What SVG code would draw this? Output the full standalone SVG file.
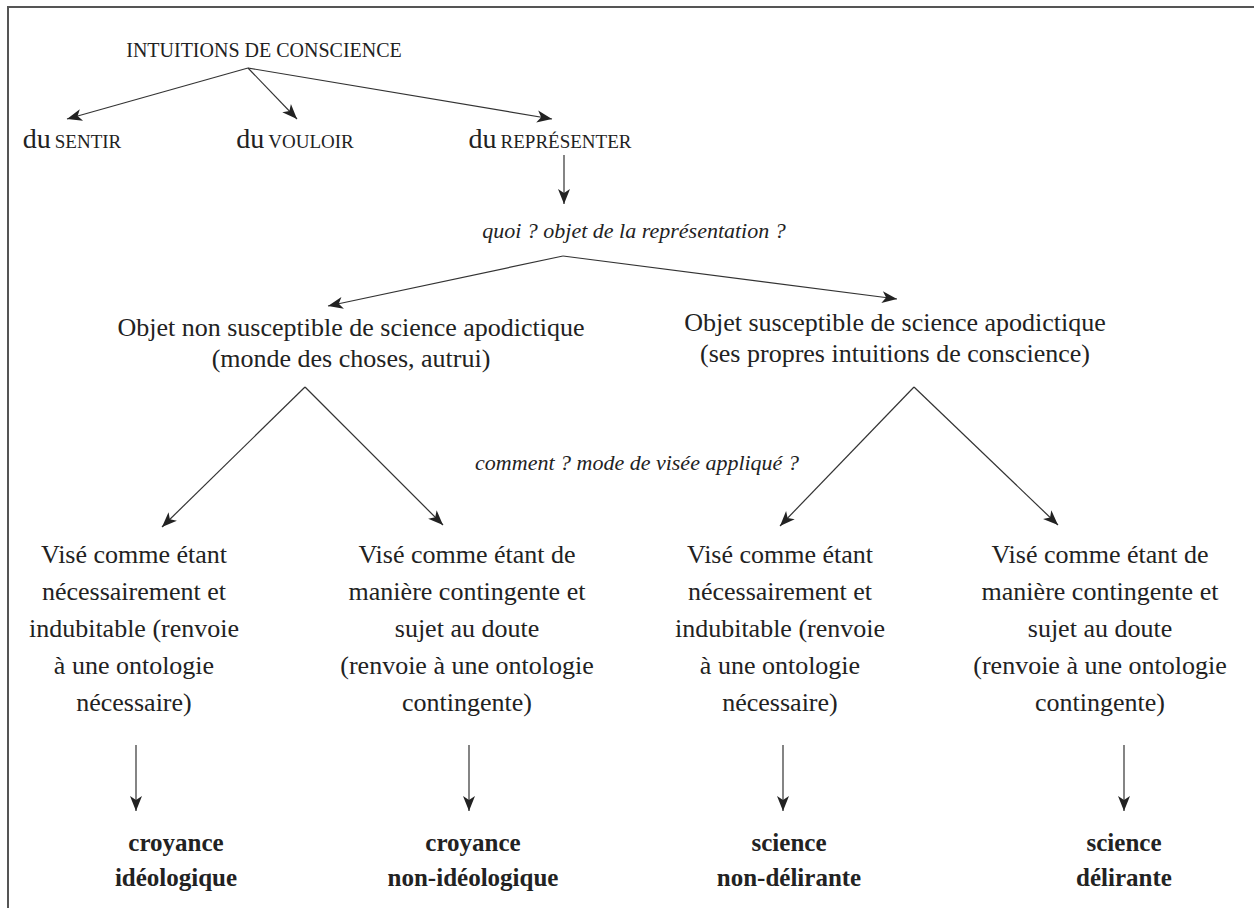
<svg xmlns="http://www.w3.org/2000/svg" width="1254" height="908" viewBox="0 0 1254 908">
<defs>
<marker id="ah" markerWidth="18" markerHeight="14" viewBox="-17 -7 18 14" refX="0" refY="0" orient="auto" markerUnits="userSpaceOnUse">
<path d="M0,0 L-15,-6 L-11,0 L-15,6 Z" fill="#222"/>
</marker>
</defs>
<style>
text{fill:#222;text-anchor:middle}
.b{font-size:26px}
.du{font-size:28px}
.sc{font-size:19px}
.sc2{font-size:20px}
.it{font-size:22px;font-style:italic}
.bd{font-size:25px;font-weight:bold}
.c{fill:none;stroke:#333;stroke-width:1.2}
.a{marker-end:url(#ah)}
.frame{fill:none;stroke:#555;stroke-width:2}
</style>
<rect width="1254" height="908" fill="#fff"/>
<path class="frame" d="M8,908 L8,7 L1254,7"/>

<g id="connectors">
<line class="c a" x1="248" y1="68" x2="67" y2="119"/>
<line class="c a" x1="248" y1="68" x2="297" y2="119"/>
<line class="c a" x1="248" y1="68" x2="552" y2="119"/>
<line class="c a" x1="564" y1="155" x2="564" y2="204"/>
<line class="c a" x1="563" y1="256" x2="328" y2="306"/>
<line class="c a" x1="563" y1="256" x2="897" y2="299"/>
<line class="c a" x1="305" y1="387" x2="162" y2="527"/>
<line class="c a" x1="305" y1="387" x2="443" y2="525"/>
<line class="c a" x1="914" y1="387" x2="780" y2="526"/>
<line class="c a" x1="914" y1="387" x2="1058" y2="525"/>
<line class="c a" x1="136" y1="745" x2="136" y2="811"/>
<line class="c a" x1="469" y1="745" x2="469" y2="811"/>
<line class="c a" x1="783" y1="745" x2="783" y2="811"/>
<line class="c a" x1="1124" y1="745" x2="1124" y2="811"/>
</g>

<g font-family="'Liberation Serif', 'Times New Roman', 'DejaVu Serif', serif">
<g id="n-intuitions"><text class="sc2" x="264" y="57">INTUITIONS DE CONSCIENCE</text></g>
<g id="n-sentir"><text x="72" y="148"><tspan class="du">du</tspan> <tspan class="sc">SENTIR</tspan></text></g>
<g id="n-vouloir"><text x="295" y="148"><tspan class="du">du</tspan> <tspan class="sc">VOULOIR</tspan></text></g>
<g id="n-representer"><text x="550" y="148"><tspan class="du">du</tspan> <tspan class="sc">REPRÉSENTER</tspan></text></g>
<g id="q-quoi"><text class="it" x="634" y="238">quoi ? objet de la représentation ?</text></g>
<g id="n-non-apod">
<text class="b" x="351" y="336">Objet non susceptible de science apodictique</text>
<text class="b" x="351" y="367">(monde des choses, autrui)</text>
</g>
<g id="n-apod">
<text class="b" x="895" y="331">Objet susceptible de science apodictique</text>
<text class="b" x="895" y="362">(ses propres intuitions de conscience)</text>
</g>
<g id="q-comment"><text class="it" x="637" y="470">comment ? mode de visée appliqué ?</text></g>
<g id="n-vise1">
<text class="b" x="134" y="563">Visé comme étant</text>
<text class="b" x="134" y="600">nécessairement et</text>
<text class="b" x="134" y="637">indubitable (renvoie</text>
<text class="b" x="134" y="674">à une ontologie</text>
<text class="b" x="134" y="711">nécessaire)</text>
</g>
<g id="n-vise2">
<text class="b" x="467" y="563">Visé comme étant de</text>
<text class="b" x="467" y="600">manière contingente et</text>
<text class="b" x="467" y="637">sujet au doute</text>
<text class="b" x="467" y="674">(renvoie à une ontologie</text>
<text class="b" x="467" y="711">contingente)</text>
</g>
<g id="n-vise3">
<text class="b" x="780" y="563">Visé comme étant</text>
<text class="b" x="780" y="600">nécessairement et</text>
<text class="b" x="780" y="637">indubitable (renvoie</text>
<text class="b" x="780" y="674">à une ontologie</text>
<text class="b" x="780" y="711">nécessaire)</text>
</g>
<g id="n-vise4">
<text class="b" x="1100" y="563">Visé comme étant de</text>
<text class="b" x="1100" y="600">manière contingente et</text>
<text class="b" x="1100" y="637">sujet au doute</text>
<text class="b" x="1100" y="674">(renvoie à une ontologie</text>
<text class="b" x="1100" y="711">contingente)</text>
</g>
<g id="n-croy-ideo">
<text class="bd" x="176" y="851">croyance</text>
<text class="bd" x="176" y="886">idéologique</text>
</g>
<g id="n-croy-nonideo">
<text class="bd" x="473" y="851">croyance</text>
<text class="bd" x="473" y="886">non-idéologique</text>
</g>
<g id="n-sci-nondel">
<text class="bd" x="789" y="851">science</text>
<text class="bd" x="789" y="886">non-délirante</text>
</g>
<g id="n-sci-del">
<text class="bd" x="1124" y="851">science</text>
<text class="bd" x="1124" y="886">délirante</text>
</g>
</g>
</svg>
